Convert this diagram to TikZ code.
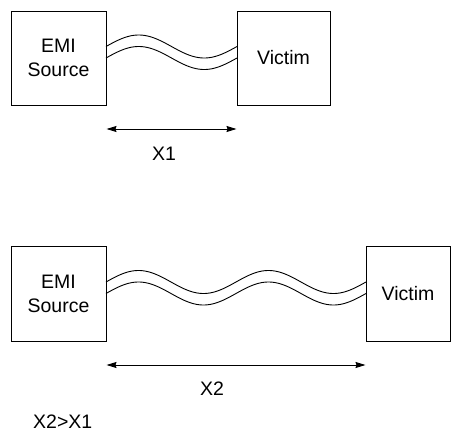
\documentclass[tikz,border=0pt]{standalone}
\usepackage{fontspec}
\setmainfont{Liberation Sans}
\usetikzlibrary{arrows.meta}
\tikzset{
  box/.style={draw, line width=1pt, inner sep=0pt, align=center, font=\fontsize{19.5}{24}\selectfont},
  wire/.style={line width=0.9pt},
  dim/.style={line width=1pt, {Stealth[length=10pt,width=6pt,inset=1pt]}-{Stealth[length=10pt,width=6pt,inset=1pt]}},
  lbl/.style={anchor=base, inner sep=0pt, font=\fontsize{19.5}{24}\selectfont}
}
\begin{document}
\begin{tikzpicture}[x=1pt,y=-1pt]
\useasboundingbox (0,0) rectangle (451,432);
% top pair
\node[box, minimum width=95pt, minimum height=94pt] (emi1) at (58.5,58) {EMI\\Source};
\node[box, minimum width=93pt, minimum height=94pt] (vic1) at (283.5,58) {Victim};
\draw[wire] plot[domain=0:131, samples=80, smooth] ({106+\x}, {46.5-11.5*sin(\x/131*360)});
\draw[wire] plot[domain=0:131, samples=80, smooth] ({106+\x}, {58-11.5*sin(\x/131*360)});
\draw[dim] (emi1.east |- 0,129) -- (vic1.west |- 0,129);
\node[lbl] (x1) at (164,160) {X1};
% bottom pair
\node[box, minimum width=95pt, minimum height=95pt] (emi2) at (58.5,293.5) {EMI\\Source};
\node[box, minimum width=84pt, minimum height=95pt] (vic2) at (408,293.5) {Victim};
\draw[wire] plot[domain=0:260, samples=160, smooth] ({106+\x}, {282-11.5*sin(\x/130*360)});
\draw[wire] plot[domain=0:260, samples=160, smooth] ({106+\x}, {293.5-11.5*sin(\x/130*360)});
\draw[dim] (emi2.east |- 0,365) -- (vic2.west |- 0,365);
\node[lbl] (x2) at (212,395) {X2};
\node[lbl, anchor=base west] (cmp) at (33,428) {X2>X1};
\end{tikzpicture}
\end{document}
